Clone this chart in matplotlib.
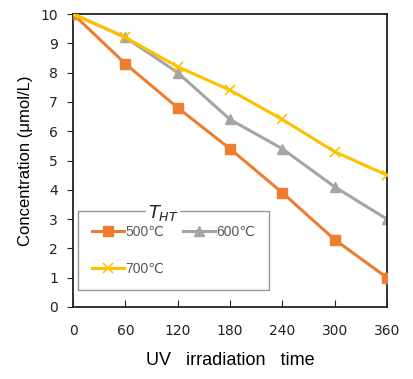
import matplotlib
matplotlib.use("Agg")
import matplotlib.pyplot as plt

time = [0, 60, 120, 180, 240, 300, 360]
c500 = [10, 8.3, 6.8, 5.4, 3.9, 2.3, 1.0]
c600 = [10, 9.2, 8.0, 6.4, 5.4, 4.1, 3.0]
c700 = [10, 9.2, 8.2, 7.4, 6.4, 5.3, 4.5]
labels = ["500℃", "600℃", "700℃"]
yticks = list(range(0, 11))

plt.rcParams['font.family'] = ['Liberation Sans', 'DejaVu Sans']

fig = plt.figure(figsize=(4.13, 3.79), dpi=100)
ax = fig.add_axes([0.177, 0.19, 0.76, 0.773])

h1, = ax.plot(time, c500, color='#ED7D31', lw=2.2, marker='s', ms=7, label=labels[0], zorder=3)
h2, = ax.plot(time, c600, color='#A5A5A5', lw=2.2, marker='^', ms=6.5, label=labels[1], zorder=2)
h3, = ax.plot(time, c700, color='#FFC000', lw=2.2, marker='x', ms=7, mew=1.2, label=labels[2], zorder=4)

ax.set_xlim(0, 360)
ax.set_ylim(0, 10)
ax.set_xticks(time)
ax.set_yticks(yticks)
ax.tick_params(axis='x', direction='in', length=5, labelsize=10, pad=12, colors='#222222')
ax.tick_params(axis='y', direction='out', length=4, labelsize=10, pad=7, colors='#222222')
for lab in ax.get_xticklabels() + ax.get_yticklabels():
    lab.set_family(['DejaVu Sans'])
for s in ax.spines.values():
    s.set_linewidth(1.3)
    s.set_color('#222222')

ax.set_xlabel("UV   irradiation   time", fontsize=13, labelpad=10)
ax.set_ylabel("Concentration (μmol/L)", fontsize=12, labelpad=5)

leg = ax.legend([h1, h3, h2], [labels[0], labels[2], labels[1]],
                loc='lower left', bbox_to_anchor=(0.016, 0.058, 0.608, 0.262), mode='expand',
                ncol=2, frameon=True, fancybox=False, edgecolor='#7f7f7f', fontsize=10,
                handlelength=2.3, handletextpad=0.1, columnspacing=1.0, labelspacing=1.7,
                borderaxespad=0, borderpad=1.0, labelcolor='#595959')
leg.get_frame().set_linewidth(1.0)
leg.set_zorder(5)
ax.text(0.287, 0.32, "$T_{HT}$", transform=ax.transAxes, ha='center', va='center',
        fontsize=13, color='#222222', zorder=10,
        bbox=dict(facecolor='white', edgecolor='none', pad=1))

fig.savefig("out.png", dpi=100)
